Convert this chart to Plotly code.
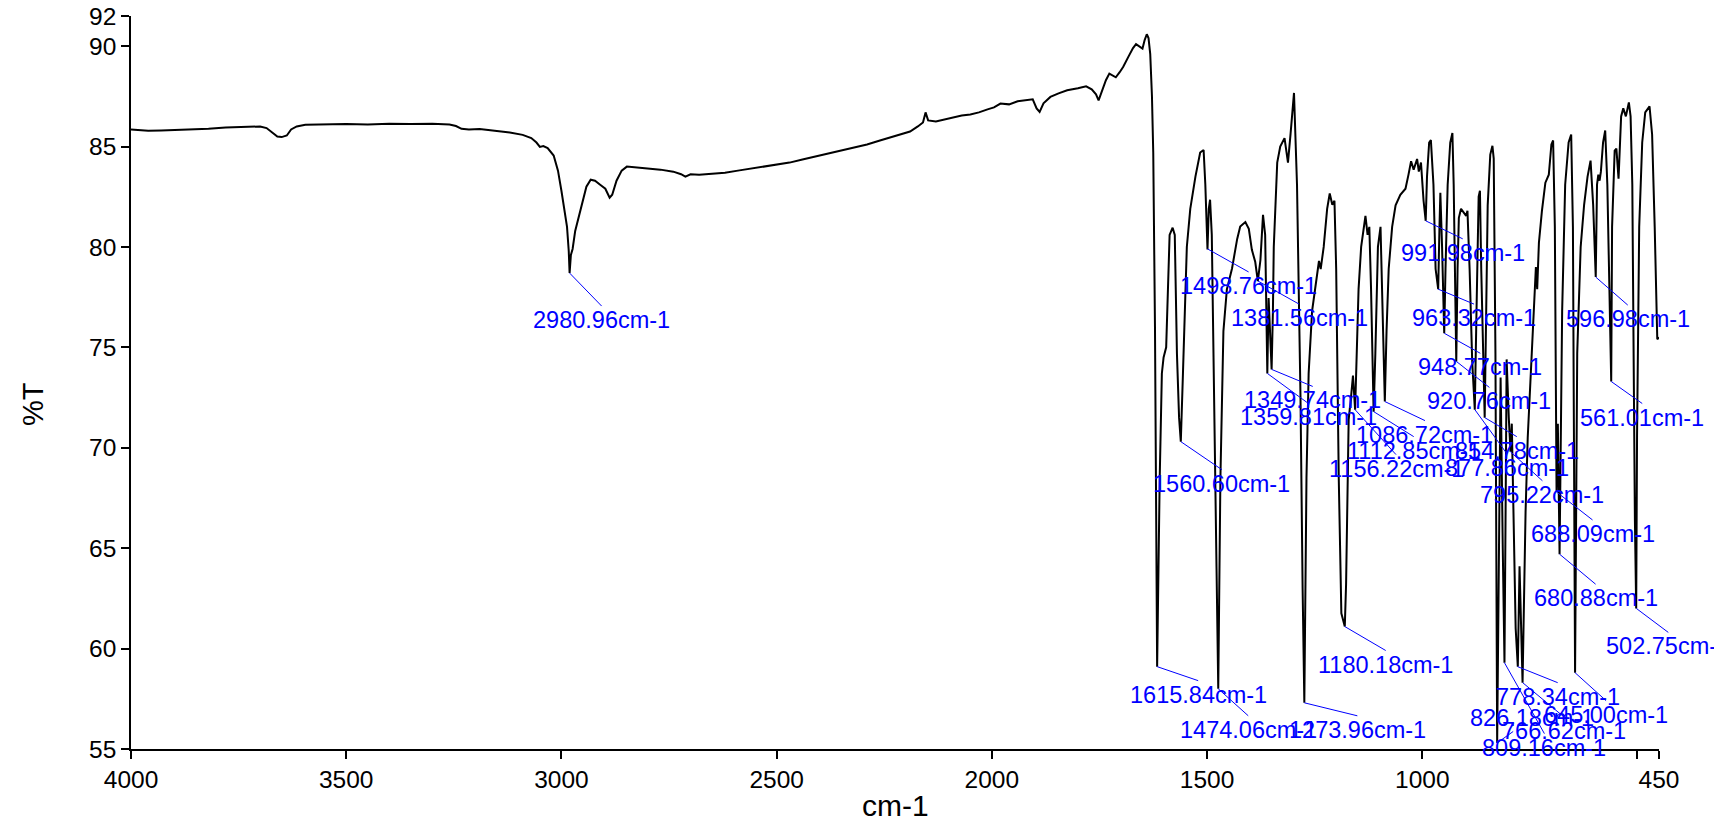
import plotly.graph_objects as go

# ---- spectrum (wavenumber cm-1, %T) ----
wavenumber = [
    4000, 3960, 3930, 3900, 3860, 3820, 3780, 3740, 3700, 3685, 3670, 3660, 3650, 3638, 3628, 3615,
    3595, 3550, 3500, 3450, 3400, 3350, 3300, 3260, 3245, 3232, 3215, 3190, 3160, 3120, 3090, 3070,
    3058, 3050, 3042, 3032, 3018, 3008, 3000, 2993, 2987, 2983, 2981, 2978, 2974, 2968, 2960, 2952,
    2942, 2932, 2922, 2910, 2898, 2888, 2882, 2872, 2860, 2848, 2830, 2800, 2770, 2740, 2722, 2712,
    2700, 2680, 2650, 2620, 2590, 2560, 2530, 2500, 2470, 2440, 2410, 2380, 2350, 2320, 2290, 2260,
    2235, 2210, 2190, 2172, 2160, 2154, 2148, 2130, 2110, 2090, 2070, 2050, 2030, 2010, 1995, 1980,
    1960, 1940, 1920, 1905, 1896, 1889, 1880, 1864, 1845, 1825, 1800, 1781, 1768, 1758, 1752, 1745,
    1735, 1727, 1712, 1703, 1695, 1682, 1672, 1665, 1656, 1650, 1645, 1640, 1636, 1632, 1628, 1625,
    1621, 1616, 1610, 1605, 1601, 1595, 1587, 1580, 1575, 1570, 1565, 1561, 1556, 1547, 1539, 1527,
    1516, 1508, 1504, 1499, 1496, 1493, 1489, 1483, 1478, 1474, 1469, 1462, 1454, 1442, 1430, 1423,
    1411, 1403, 1396, 1388, 1382, 1376, 1370, 1365, 1360, 1357, 1350, 1347, 1345, 1337, 1330, 1320,
    1312, 1306, 1298, 1291, 1283, 1278, 1274, 1269, 1264, 1256, 1244, 1240, 1236, 1232, 1229, 1221,
    1215, 1209, 1204, 1200, 1194, 1188, 1183, 1180, 1177, 1174, 1171, 1165, 1161, 1156, 1153, 1148,
    1142, 1136, 1132, 1127, 1123, 1119, 1113, 1109, 1103, 1097, 1093, 1087, 1083, 1078, 1070, 1062,
    1051, 1039, 1032, 1026, 1020, 1012, 1008, 1003, 997, 992, 989, 984, 980, 974, 969, 963,
    960, 958, 954, 949, 946, 941, 935, 930, 927, 921, 918, 915, 910, 904, 898, 895,
    890, 884, 878, 874, 869, 866, 863, 855, 852, 848, 842, 837, 834, 830, 826, 822,
    818, 813, 809, 806, 804, 799, 795, 792, 788, 783, 778, 774, 767, 763, 760, 755,
    750, 745, 740, 736, 733, 729, 722, 714, 706, 700, 696, 692, 688, 685, 681, 677,
    675, 668, 660, 654, 650, 645, 640, 632, 624, 616, 609, 603, 597, 594, 591, 588,
    585, 580, 575, 570, 564, 561, 559, 553, 549, 544, 538, 533, 527, 520, 516, 512,
    506, 503, 501, 496, 489, 482, 472, 466, 460, 454, 450,
]
transmittance = [
    85.85, 85.78, 85.80, 85.82, 85.85, 85.88, 85.95, 85.98, 86.00, 85.92, 85.65, 85.50, 85.47, 85.55, 85.85, 86.00,
    86.08, 86.10, 86.12, 86.10, 86.13, 86.12, 86.13, 86.10, 86.02, 85.88, 85.85, 85.87, 85.80, 85.70, 85.58, 85.42,
    85.20, 84.98, 85.02, 84.92, 84.55, 83.80, 82.80, 81.90, 81.00, 79.80, 78.70, 79.60, 79.90, 80.80, 81.50, 82.20,
    83.00, 83.35, 83.30, 83.10, 82.90, 82.45, 82.60, 83.30, 83.80, 84.00, 83.95, 83.90, 83.85, 83.75, 83.62, 83.50,
    83.62, 83.60, 83.65, 83.70, 83.80, 83.90, 84.00, 84.10, 84.20, 84.35, 84.50, 84.65, 84.80, 84.95, 85.10, 85.30,
    85.45, 85.60, 85.75, 86.00, 86.20, 86.70, 86.30, 86.25, 86.35, 86.45, 86.55, 86.60, 86.70, 86.85, 86.95, 87.14,
    87.10, 87.25, 87.30, 87.35, 86.90, 86.72, 87.15, 87.47, 87.65, 87.80, 87.90, 88.00, 87.85, 87.60, 87.30, 87.70,
    88.30, 88.63, 88.45, 88.70, 88.96, 89.50, 89.90, 90.10, 89.95, 89.88, 90.30, 90.59, 90.40, 89.60, 87.50, 84.70,
    76.00, 59.10, 68.50, 73.70, 74.50, 75.00, 80.60, 80.96, 80.60, 74.70, 71.50, 70.30, 73.70, 80.00, 81.90, 83.50,
    84.70, 84.83, 83.10, 79.87, 81.90, 82.35, 80.60, 72.60, 64.00, 58.00, 68.46, 75.80, 77.88, 78.93, 80.40, 81.02,
    81.24, 80.90, 79.87, 79.25, 78.30, 79.35, 81.60, 80.60, 73.70, 77.46, 73.90, 76.80, 80.00, 84.20, 85.00, 85.42,
    84.20, 85.63, 87.67, 83.10, 72.65, 63.00, 57.30, 68.50, 73.70, 76.80, 78.90, 79.30, 78.90, 79.60, 80.00, 81.90,
    82.66, 82.10, 82.30, 78.90, 68.46, 61.76, 61.30, 61.10, 63.20, 68.50, 71.40, 72.65, 73.60, 71.90, 74.70, 77.90,
    80.00, 81.00, 81.55, 80.60, 81.00, 77.90, 71.80, 74.70, 80.00, 81.00, 77.90, 72.30, 75.80, 78.90, 81.00, 82.07,
    82.60, 82.90, 83.60, 84.27, 83.85, 84.38, 83.75, 84.20, 82.30, 81.30, 83.50, 85.20, 85.32, 83.10, 78.90, 77.90,
    81.00, 82.70, 80.00, 75.70, 78.90, 83.10, 85.20, 85.67, 83.10, 74.30, 78.90, 81.45, 81.90, 81.70, 81.55, 81.80,
    78.90, 74.30, 71.90, 76.80, 82.50, 82.80, 78.90, 71.50, 76.80, 82.07, 84.60, 85.04, 84.40, 74.70, 55.30, 65.00,
    73.50, 65.00, 59.30, 68.00, 74.40, 71.50, 69.80, 71.20, 67.00, 61.00, 59.10, 64.10, 58.30, 63.00, 66.80, 70.50,
    72.70, 75.50, 77.80, 79.00, 77.90, 80.20, 81.80, 83.20, 83.60, 85.10, 85.30, 81.00, 67.80, 71.20, 64.70, 72.00,
    76.80, 83.10, 85.20, 85.60, 81.00, 58.80, 74.70, 80.00, 82.10, 83.50, 84.30, 82.10, 78.50, 83.10, 83.60, 83.30,
    83.75, 85.20, 85.80, 83.10, 75.50, 73.30, 81.00, 84.80, 84.90, 83.40, 86.50, 86.90, 86.50, 87.20, 86.50, 83.10,
    66.40, 62.00, 70.60, 81.00, 85.20, 86.70, 87.00, 85.60, 81.00, 75.40, 75.50,
]

# ---- labelled peaks ----
peak_wn = [2980.96, 1615.84, 1560.60, 1498.76, 1474.06, 1381.56, 1359.81, 1349.74, 1273.96, 1180.18,
           1156.22, 1112.85, 1086.72, 991.98, 963.32, 948.77, 920.76, 877.86, 854.78, 826.18,
           809.16, 795.22, 778.34, 766.62, 688.09, 680.88, 645.00, 596.98, 561.01, 502.75]
peak_t = [78.7, 59.1, 70.3, 79.9, 58.0, 78.3, 73.7, 73.9, 57.3, 61.1,
          71.9, 71.8, 72.3, 81.3, 77.9, 75.7, 74.3, 71.9, 71.5, 55.3,
          59.3, 69.8, 59.1, 58.3, 67.8, 64.7, 58.8, 78.5, 73.3, 62.0]

# label placement (pixel offsets of the label's top-centre from the peak)
label_dx = [32, 41, 41, 41, 30, 41, 41, 41, 53, 41,
            41, 40, 40, 37, 36, 36, 33, 32, 32, 35,
            40, 32, 40, 41, 36, 36, 31, 32, 31, 32]
label_dy = [33, 14, 28, 23, 27, 23, 30, 17, 13, 24,
            45, 25, 19, 18, 15, 20, 26, 44, 19, -25,
            71, 29, 16, 34, 28, 30, 28, 28, 22, 24]

x_tickvals = [4000, 3500, 3000, 2500, 2000, 1500, 1000, 500, 450]
x_ticktext = ["4000", "3500", "3000", "2500", "2000", "1500", "1000", "", "450"]
y_tickvals = [55, 60, 65, 70, 75, 80, 85, 90, 91.5]
y_ticktext = ["55", "60", "65", "70", "75", "80", "85", "90", "92"]

FONT = "Liberation Sans, Arial, sans-serif"
BLUE = "#0000FF"

fig = go.Figure()
fig.add_trace(go.Scatter(x=wavenumber, y=transmittance, mode="lines",
                         line=dict(color="black", width=2), hoverinfo="skip"))

annotations = []
for wn, t, dx, dy in zip(peak_wn, peak_t, label_dx, label_dy):
    annotations.append(dict(
        x=wn, y=t, xref="x", yref="y", text=f"{wn:.2f}cm-1",
        showarrow=True, arrowhead=0, arrowwidth=1, arrowcolor=BLUE,
        standoff=0, startstandoff=0, ax=dx, ay=dy,
        xanchor="center", yanchor="top" if dy > 0 else "middle",
        font=dict(family=FONT, size=23.5, color=BLUE), borderpad=0,
    ))

annotations.append(dict(text="cm-1", xref="paper", yref="paper", x=0.5, y=-0.0764,
                        xanchor="center", yanchor="middle", showarrow=False,
                        font=dict(family=FONT, size=30, color="black")))
annotations.append(dict(text="%T", xref="paper", yref="paper", x=-0.0641, y=0.4707,
                        xanchor="center", yanchor="middle", showarrow=False, textangle=-90,
                        font=dict(family=FONT, size=29, color="black")))

axis_common = dict(showline=True, linecolor="black", linewidth=1.5, ticks="outside",
                   ticklen=8, tickwidth=1.5, tickcolor="black", showgrid=False,
                   zeroline=False, tickfont=dict(family=FONT, size=24.5, color="black"),
                   mirror=False, ticklabeloverflow="allow", automargin=False)

# the page body has an 8px default margin, so the figure is 8px smaller and
# its margins are reduced to keep the plot area where the reference has it
fig.update_layout(
    width=1714, height=811,
    margin=dict(l=123, r=63, t=8, b=70, autoexpand=False),
    paper_bgcolor="white", plot_bgcolor="white",
    showlegend=False,
    xaxis=dict(range=[4000, 450], tickmode="array", tickvals=x_tickvals,
               ticktext=x_ticktext, **axis_common),
    yaxis=dict(range=[55, 91.5], tickmode="array", tickvals=y_tickvals,
               ticktext=y_ticktext, **axis_common),
    annotations=annotations,
)

fig.write_html("out.html")
